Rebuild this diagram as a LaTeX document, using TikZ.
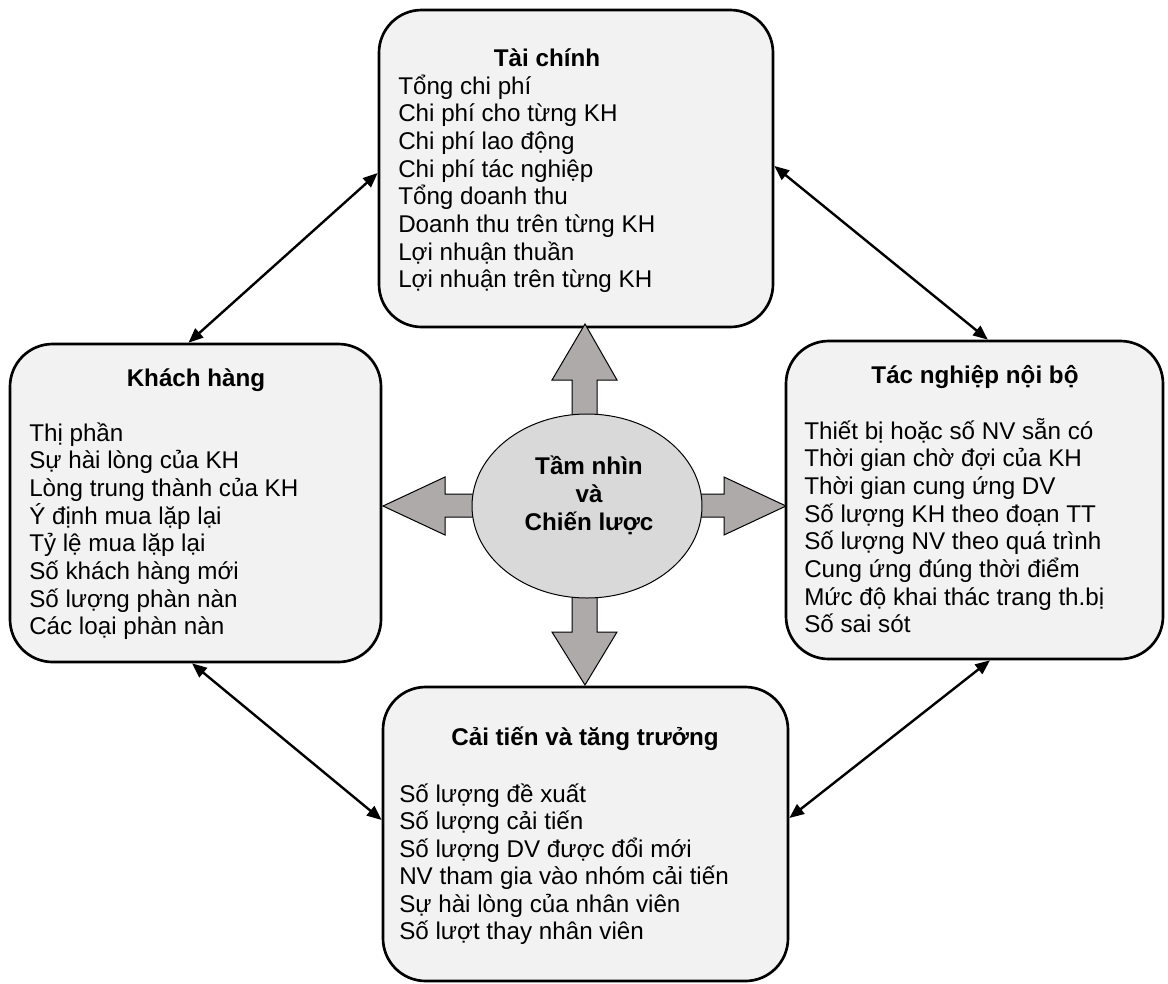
\documentclass[tikz,border=0pt]{standalone}
\usepackage{fontspec}
\setmainfont{Liberation Sans}
\usetikzlibrary{shapes.geometric,arrows.meta}
\definecolor{panelfill}{HTML}{F2F2F2}
\definecolor{hubfill}{HTML}{D9D9D9}
\definecolor{arrowgray}{HTML}{AEAAAA}
\begin{document}
\begin{tikzpicture}[x=0.75pt,y=-0.75pt,
  panel/.style={draw=black, line width=2pt, fill=panelfill, rounded corners=32pt, inner sep=0pt},
  panelhead/.style={font=\fontsize{18.15}{20.8}\selectfont\bfseries, anchor=base, inner sep=0pt},
  panelitem/.style={font=\fontsize{18.15}{20.8}\selectfont, anchor=base west, inner sep=0pt},
  bigarrow/.style={draw=black, line width=0.75pt, fill=arrowgray},
  hub/.style={ellipse, draw=black, line width=0.75pt, fill=hubfill, inner sep=0pt},
  link/.style={line width=1.8pt, {Triangle[length=11pt,width=9pt]}-{Triangle[length=11pt,width=9pt]}}
]
\useasboundingbox (0,0) rectangle (1168,983);

% four perspective panels
\node[panel, minimum width=295.5pt, minimum height=237.75pt] (tc) at (576,168.5) {};
\node[panel, minimum width=278.25pt, minimum height=238.5pt] (kh) at (195.5,503) {};
\node[panel, minimum width=282.75pt, minimum height=238.5pt] (tn) at (974.5,500) {};
\node[panel, minimum width=303.75pt, minimum height=220.5pt] (ct) at (585.5,834) {};

% financial perspective
\node[panelhead] (tc-head) at (547,66.5) {Tài chính};
\foreach \t [count=\i from 0] in {Tổng chi phí, Chi phí cho từng KH, Chi phí lao động,
  Chi phí tác nghiệp, Tổng doanh thu, Doanh thu trên từng KH, Lợi nhuận thuần,
  Lợi nhuận trên từng KH}
  \node[panelitem] (tc-\i) at (398,{94+27.7*\i}) {\t};

% customer perspective
\node[panelhead] (kh-head) at (196,386) {Khách hàng};
\foreach \t [count=\i from 0] in {Thị phần, Sự hài lòng của KH, Lòng trung thành của KH,
  Ý định mua lặp lại, Tỷ lệ mua lặp lại, Số khách hàng mới, Số lượng phàn nàn,
  Các loại phàn nàn}
  \node[panelitem] (kh-\i) at (29,{441+27.7*\i}) {\t};

% internal process perspective
\node[panelhead] (tn-head) at (975,383.5) {Tác nghiệp nội bộ};
\foreach \t [count=\i from 0] in {Thiết bị hoặc số NV sẵn có, Thời gian chờ đợi của KH,
  Thời gian cung ứng DV, Số lượng KH theo đoạn TT, Số lượng NV theo quá trình,
  Cung ứng đúng thời điểm, Mức độ khai thác trang th.bị, Số sai sót}
  \node[panelitem] (tn-\i) at (804,{439+27.7*\i}) {\t};

% learning and growth perspective
\node[panelhead] (ct-head) at (585,745) {Cải tiến và tăng trưởng};
\foreach \t [count=\i from 0] in {Số lượng đề xuất, Số lượng cải tiến,
  Số lượng DV được đổi mới, NV tham gia vào nhóm cải tiến,
  Sự hài lòng của nhân viên, Số lượt thay nhân viên}
  \node[panelitem] (ct-\i) at (399,{802+27.5*\i}) {\t};

% block arrows leaving the hub
\draw[bigarrow] (572,430) -- (572,380) -- (552,380) -- (585,324) -- (617,380) -- (597,380) -- (597,430);
\draw[bigarrow] (572,580) -- (572,632) -- (552,632) -- (585,685) -- (617,632) -- (597,632) -- (597,580);
\draw[bigarrow] (490,494) -- (445,494) -- (445,477) -- (383,506) -- (445,535) -- (445,517) -- (490,517);
\draw[bigarrow] (690,494) -- (724,494) -- (724,477) -- (786,506) -- (724,535) -- (724,517) -- (690,517);

% vision and strategy hub
\node[hub, minimum width=172.5pt, minimum height=138pt] (hub) at (587,506) {};
\foreach \t [count=\i from 0] in {Tầm nhìn, và, Chiến lược}
  \node[panelhead] (hub-\i) at (589,{474+28.25*\i}) {\t};

% links between neighbouring panels
\draw[link] ([yshift=-3.4pt]tc.west) -- ([xshift=-5.25pt]kh.north);
\draw[link] ([yshift=1.9pt]tc.east) -- ([xshift=10pt]tn.north);
\draw[link] ([xshift=-2.6pt]kh.south) -- ([yshift=10.5pt]ct.west);
\draw[link] ([xshift=11.6pt]tn.south) -- ([yshift=12pt]ct.east);
\end{tikzpicture}
\end{document}
